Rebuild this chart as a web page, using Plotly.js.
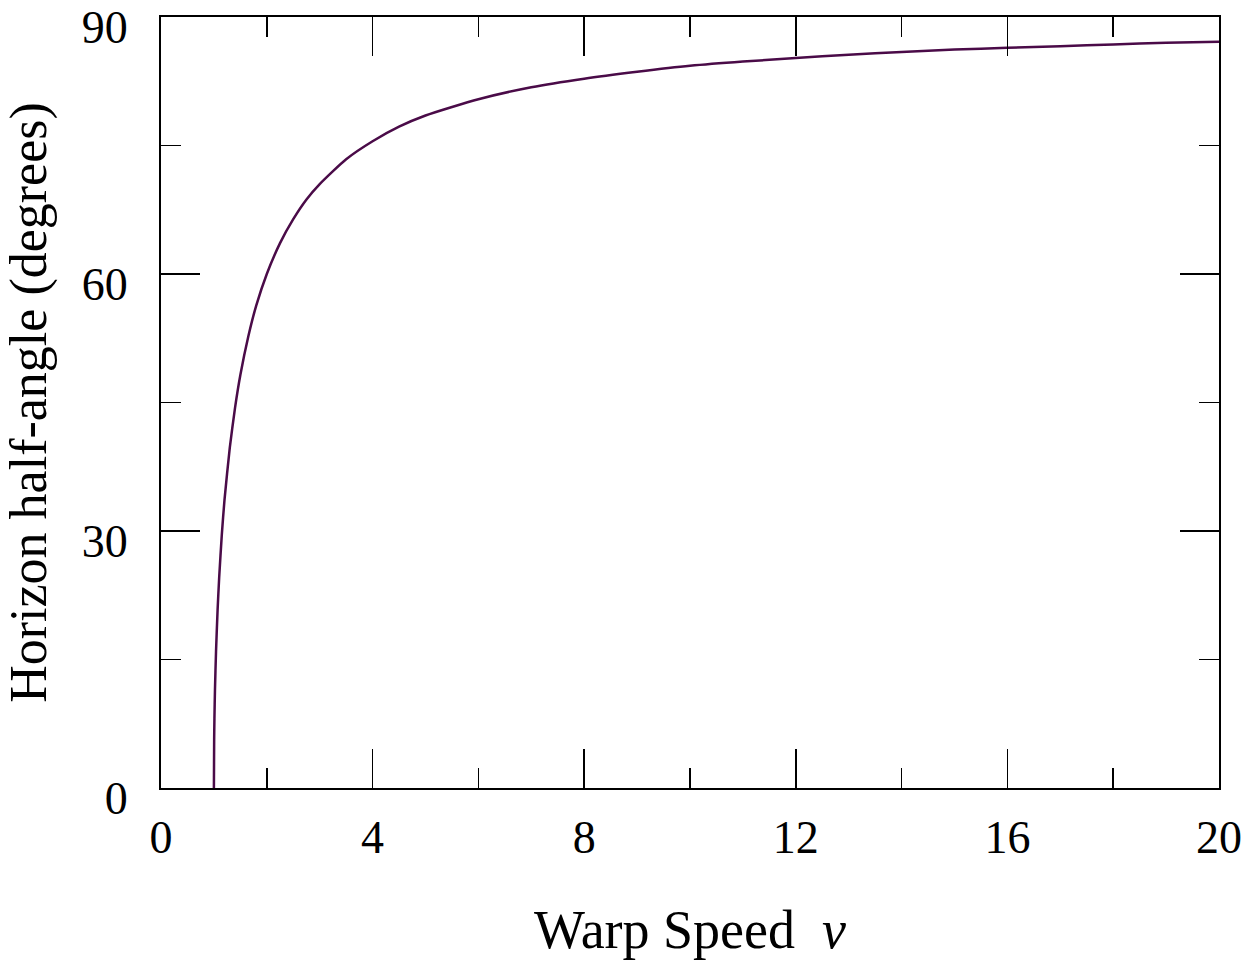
<!DOCTYPE html>
<html>
<head>
<meta charset="utf-8">
<script src="https://cdn.plot.ly/plotly-3.0.1.min.js"></script>
<style>html,body{margin:0;padding:0;background:#fff;}#chart{width:1258px;height:965px;}</style>
</head>
<body>
<div id="chart"></div>
<script>
const warpSpeed = [1, 1.005, 1.01, 1.02, 1.04, 1.07, 1.1, 1.15, 1.2, 1.3, 1.4, 1.5, 1.65, 1.8, 2, 2.25, 2.5, 2.75, 3, 3.5, 4, 4.5, 5, 6, 7, 8, 9, 10, 11, 12, 13, 14, 15, 16, 17, 18, 19, 20];
const halfAngle = [0, 5.7, 8.1, 11.4, 15.9, 20.8, 24.6, 29.6, 33.6, 39.7, 44.4, 48.2, 52.7, 56.3, 60.0, 63.6, 66.4, 68.7, 70.5, 73.4, 75.5, 77.2, 78.5, 80.4, 81.8, 82.8, 83.6, 84.3, 84.8, 85.2, 85.6, 85.9, 86.2, 86.4, 86.6, 86.8, 87.0, 87.1];
const xTicks = [0, 4, 8, 12, 16, 20];
const yTicks = [0, 30, 60, 90];

const font = {family: 'Liberation Serif, Times New Roman, serif', color: '#000'};

Plotly.newPlot('chart', [{
  x: warpSpeed, y: halfAngle, type: 'scatter', mode: 'lines',
  line: {color: '#4a0b48', width: 2.5, shape: 'spline', smoothing: 0.6},
  hoverinfo: 'skip'
}], {
  width: 1258, height: 965,
  margin: {l: 161, r: 39, t: 17, b: 177},
  paper_bgcolor: '#fff', plot_bgcolor: '#fff',
  showlegend: false,
  font: Object.assign({size: 46}, font),
  xaxis: {
    range: [0, 20], tickmode: 'array', tickvals: xTicks, ticktext: xTicks.map(String),
    ticks: 'inside', ticklen: 39, tickwidth: 1.5, tickcolor: '#000',
    minor: {tickmode: 'linear', tick0: 0, dtick: 2, ticks: 'inside', ticklen: 20, tickwidth: 1.5, tickcolor: '#000', showgrid: false},
    showline: true, linewidth: 2, linecolor: '#000', mirror: 'ticks',
    showgrid: false, zeroline: false, automargin: false,
    tickfont: Object.assign({size: 46}, font), ticklabelstandoff: 8, ticklabeloverflow: 'allow',
    title: {text: 'Warp Speed\u00A0\u00A0<i>v</i>', font: Object.assign({size: 54}, font), standoff: 48}
  },
  yaxis: {
    range: [0, 90], tickmode: 'array', tickvals: yTicks, ticktext: yTicks.map(String),
    ticks: 'inside', ticklen: 39, tickwidth: 1.5, tickcolor: '#000',
    minor: {tickmode: 'linear', tick0: 0, dtick: 15, ticks: 'inside', ticklen: 20, tickwidth: 1.5, tickcolor: '#000', showgrid: false},
    showline: true, linewidth: 2, linecolor: '#000', mirror: 'ticks',
    showgrid: false, zeroline: false, automargin: false,
    tickfont: Object.assign({size: 46}, font), ticklabelstandoff: 22, ticklabelshift: 10, ticklabeloverflow: 'allow',
    title: {text: 'Horizon half-angle (degrees)', font: Object.assign({size: 52}, font), standoff: 20}
  }
}, {displayModeBar: false, staticPlot: true});
</script>
</body>
</html>
